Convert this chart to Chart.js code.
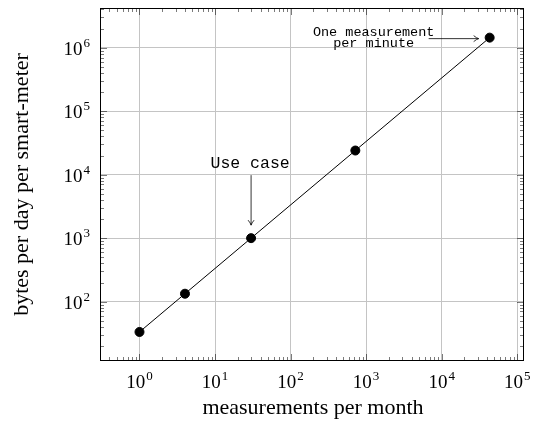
<!DOCTYPE html>
<html>
<head>
<meta charset="utf-8">
<script src="https://cdn.jsdelivr.net/npm/chart.js@4/dist/chart.umd.min.js"></script>
<style>
  html, body { margin: 0; padding: 0; background: #fff; }
  canvas { display: block; }
</style>
</head>
<body>
<canvas id="chart" width="537" height="424"></canvas>
<script>
// measurements per month vs bytes per day
const measurements = [1, 4, 30, 720, 43200];
const bytesPerDay = [33.3, 133.3, 1000, 24000, 1440000];
const xTickExps = [0, 1, 2, 3, 4, 5];
const yTickExps = [2, 3, 4, 5, 6];
const xLabel = 'measurements per month';
const yLabel = 'bytes per day per smart-meter';
const notes = [
    { index: 2, lines: ['Use case'] },
    { index: 4, lines: ['One measurement', 'per minute'] }
];

const serif = '"Liberation Serif", "DejaVu Serif", serif';
const mono = '"Liberation Mono", "DejaVu Sans Mono", monospace';

// draw "10" with a raised exponent
function drawPower(ctx, exp, x, y, align) {
    ctx.font = '19px ' + serif;
    const wBase = ctx.measureText('10').width;
    ctx.font = '13px ' + serif;
    const wExp = ctx.measureText(String(exp)).width;
    const total = wBase + 1 + wExp;
    let left = x - total / 2;
    if (align === 'right') left = x - total;
    ctx.textAlign = 'left';
    ctx.textBaseline = 'alphabetic';
    ctx.font = '19px ' + serif;
    ctx.fillText('10', left, y);
    ctx.font = '13px ' + serif;
    ctx.fillText(String(exp), left + wBase + 1, y - 8);
}

function arrowHead(ctx, x, y, dir) {
    // dir: 'down' or 'right'
    ctx.beginPath();
    if (dir === 'down') {
        ctx.moveTo(x - 3, y - 5);
        ctx.quadraticCurveTo(x - 0.5, y - 2, x, y);
        ctx.quadraticCurveTo(x + 0.5, y - 2, x + 3, y - 5);
    } else {
        ctx.moveTo(x - 5, y - 3);
        ctx.quadraticCurveTo(x - 2, y - 0.5, x, y);
        ctx.quadraticCurveTo(x - 2, y + 0.5, x - 5, y + 3);
    }
    ctx.stroke();
}

const framePlugin = {
    id: 'frame',
    afterDraw(chart) {
        const ctx = chart.ctx;
        const a = chart.chartArea;
        const xs = chart.scales.x, ys = chart.scales.y;
        ctx.save();

        // minor and major ticks, pointing inward on all sides
        ctx.strokeStyle = 'rgba(0,0,0,0.65)';
        ctx.lineWidth = 0.8;
        ctx.beginPath();
        for (let e = -1; e <= 6; e++) {
            for (let m = 1; m <= 9; m++) {
                const v = m * Math.pow(10, e);
                const len = m === 1 ? 7 : 4;
                if (v >= xs.min && v <= xs.max) {
                    const px = Math.round(xs.getPixelForValue(v)) + 0.5;
                    ctx.moveTo(px, a.bottom); ctx.lineTo(px, a.bottom - len);
                    ctx.moveTo(px, a.top); ctx.lineTo(px, a.top + len);
                }
                if (v >= ys.min && v <= ys.max) {
                    const py = Math.round(ys.getPixelForValue(v)) + 0.5;
                    ctx.moveTo(a.left, py); ctx.lineTo(a.left + len, py);
                    ctx.moveTo(a.right, py); ctx.lineTo(a.right - len, py);
                }
            }
        }
        ctx.stroke();

        // box
        ctx.strokeStyle = '#000';
        ctx.lineWidth = 1;
        ctx.strokeRect(a.left + 0.5, a.top + 0.5, a.right - a.left - 1, a.bottom - a.top - 1);

        // tick labels
        ctx.fillStyle = '#000';
        xTickExps.forEach(e => {
            drawPower(ctx, e, xs.getPixelForValue(Math.pow(10, e)), a.bottom + 27, 'center');
        });
        yTickExps.forEach(e => {
            drawPower(ctx, e, a.left - 10, ys.getPixelForValue(Math.pow(10, e)) + 7, 'right');
        });

        // axis titles
        ctx.font = '22px ' + serif;
        ctx.textAlign = 'center';
        ctx.textBaseline = 'middle';
        ctx.fillText(xLabel, (a.left + a.right) / 2 + 1, 408);
        ctx.save();
        ctx.translate(22, (a.top + a.bottom) / 2);
        ctx.rotate(-Math.PI / 2);
        ctx.fillText(yLabel, 0, 0);
        ctx.restore();

        // annotations
        const meta = chart.getDatasetMeta(0);
        ctx.strokeStyle = '#000';
        ctx.lineWidth = 0.8;
        notes.forEach(n => {
            const pt = meta.data[n.index];
            if (n.lines.length === 1) {
                ctx.font = '16.5px ' + mono;
                ctx.textAlign = 'center';
                ctx.fillText(n.lines[0], pt.x - 1, pt.y - 75);
                ctx.beginPath();
                ctx.moveTo(pt.x, pt.y - 63);
                ctx.lineTo(pt.x, pt.y - 13);
                ctx.stroke();
                arrowHead(ctx, pt.x, pt.y - 13, 'down');
            } else {
                ctx.font = '13.5px ' + mono;
                ctx.textAlign = 'center';
                ctx.fillText(n.lines[0], pt.x - 116, pt.y - 5);
                ctx.fillText(n.lines[1], pt.x - 116, pt.y + 6);
                ctx.beginPath();
                ctx.moveTo(pt.x - 61, pt.y + 1);
                ctx.lineTo(pt.x - 11, pt.y + 1);
                ctx.stroke();
                arrowHead(ctx, pt.x - 11, pt.y + 1, 'right');
            }
        });
        ctx.restore();
    }
};

const decades = exps => exps.map(e => ({ value: Math.pow(10, e) }));

new Chart(document.getElementById('chart'), {
    type: 'line',
    data: {
        datasets: [{
            data: measurements.map((m, i) => ({ x: m, y: bytesPerDay[i] })),
            borderColor: '#000',
            borderWidth: 1,
            backgroundColor: '#000',
            pointRadius: 4.5,
            pointBorderWidth: 1,
            pointBorderColor: '#000',
            tension: 0
        }]
    },
    options: {
        responsive: false,
        animation: false,
        layout: { padding: { left: 100, top: 8, right: 13, bottom: 63 } },
        plugins: { legend: { display: false }, tooltip: { enabled: false } },
        scales: {
            x: {
                type: 'logarithmic',
                min: Math.pow(10, -0.465),
                max: Math.pow(10, 5.09),
                afterBuildTicks: axis => { axis.ticks = decades(xTickExps); },
                ticks: { display: false },
                grid: { color: '#c4c4c4', lineWidth: 1, drawTicks: false },
                border: { display: false }
            },
            y: {
                type: 'logarithmic',
                min: Math.pow(10, 1.065),
                max: Math.pow(10, 6.625),
                afterBuildTicks: axis => { axis.ticks = decades(yTickExps); },
                ticks: { display: false },
                grid: { color: '#c4c4c4', lineWidth: 1, drawTicks: false },
                border: { display: false }
            }
        }
    },
    plugins: [framePlugin]
});
</script>
</body>
</html>
